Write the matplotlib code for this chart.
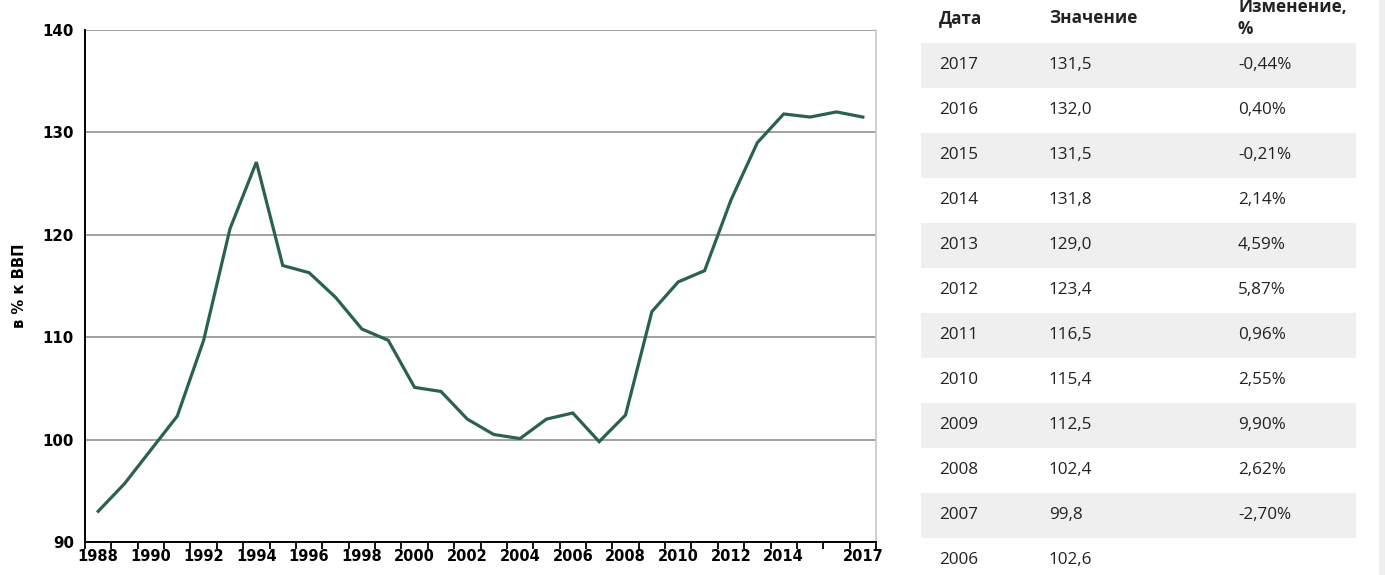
import matplotlib
matplotlib.use("Agg")
import matplotlib.pyplot as plt
from matplotlib.patches import Rectangle
from matplotlib.ticker import FixedLocator, FixedFormatter

years = list(range(1988, 2018))
values = [93.0, 95.7, 99.0, 102.3, 109.7, 120.6, 127.1, 117.0, 116.3, 113.9,
          110.8, 109.7, 105.1, 104.7, 102.0, 100.5, 100.1, 102.0, 102.6, 99.8,
          102.4, 112.5, 115.4, 116.5, 123.4, 129.0, 131.8, 131.5, 132.0, 131.5]
x_labels = [str(y) for y in range(1988, 2016, 2)] + ["2017"]
x_label_pos = list(range(1988, 2016, 2)) + [2017]
y_ticks = [90, 100, 110, 120, 130, 140]
y_title = "в % к ВВП"

table_header = ["Дата", "Значение", "Изменение,\n%"]
table_years = ["2017", "2016", "2015", "2014", "2013", "2012", "2011", "2010",
               "2009", "2008", "2007", "2006"]
table_values = ["131,5", "132,0", "131,5", "131,8", "129,0", "123,4", "116,5",
                "115,4", "112,5", "102,4", "99,8", "102,6"]
table_changes = ["-0,44%", "0,40%", "-0,21%", "2,14%", "4,59%", "5,87%", "0,96%",
                 "2,55%", "9,90%", "2,62%", "-2,70%", ""]

W, H = 1385, 575
fig = plt.figure(figsize=(W / 100, H / 100), dpi=100)
fig.patch.set_facecolor("white")

def fx(px):
    return px / W

def fy(py):
    return 1 - py / H

ax = fig.add_axes([fx(85), fy(542), fx(876) - fx(85), fy(30) - fy(542)])
ax.plot(years, values, color="#2b6150", lw=2.3, solid_joinstyle="miter")
ax.set_xlim(1987.5, 2017.5)
ax.set_ylim(90, 140)
ax.set_yticks(y_ticks)
ax.set_yticklabels([str(v) for v in y_ticks], fontsize=10.8, fontweight="bold",
                   family="DejaVu Sans")
ax.tick_params(axis="y", length=0, pad=8)
ax.yaxis.grid(True, color="#999999", lw=1.3)
ax.set_axisbelow(True)

ax.xaxis.set_major_locator(FixedLocator([y - 0.5 for y in range(1988, 2019)]))
ax.xaxis.set_major_formatter(FixedFormatter([""] * 31))
ax.xaxis.set_minor_locator(FixedLocator(x_label_pos))
ax.xaxis.set_minor_formatter(FixedFormatter(x_labels))
ax.tick_params(axis="x", which="major", length=5, width=1.3, color="black", direction="out")
ax.tick_params(axis="x", which="minor", length=0, pad=5, labelsize=10.5)
for lab in ax.get_xticklabels(minor=True):
    lab.set_fontweight("bold")

for s in ["left", "bottom"]:
    ax.spines[s].set_color("black")
    ax.spines[s].set_linewidth(1.4)
ax.spines["top"].set_visible(False)
ax.spines["right"].set_color("#cccccc")
ax.spines["right"].set_linewidth(1.3)

ax.set_ylabel(y_title, fontsize=10.6, fontweight="bold")
ax.yaxis.set_label_coords((fx(27) - fx(85)) / (fx(876) - fx(85)), 0.5)

# Table
col_x = [939, 1049, 1238]
text_color = "#222222"
tf = "Open Sans"
fs = 12.3
fig.text(fx(col_x[0]), fy(18), table_header[0], fontsize=fs, fontweight="bold",
         color=text_color, family=tf, va="center", ha="left")
fig.text(fx(col_x[1]), fy(18), table_header[1], fontsize=fs, fontweight="bold",
         color=text_color, family=tf, va="center", ha="left")
fig.text(fx(col_x[2]), fy(18), table_header[2], fontsize=fs, fontweight="bold",
         color=text_color, family=tf, va="center", ha="left", linespacing=1.3)

row_h = 45
for i, (yr, v, c) in enumerate(zip(table_years, table_values, table_changes)):
    cy = 65 + row_h * i
    if i % 2 == 0:
        fig.add_artist(Rectangle((fx(921), fy(cy + row_h / 2)), fx(1356) - fx(921),
                                 row_h / H, transform=fig.transFigure,
                                 facecolor="#efefef", edgecolor="none", zorder=0))
    for x, t in zip(col_x, [yr, v, c]):
        fig.text(fx(x), fy(cy), t, fontsize=fs, color=text_color, family=tf,
                 va="center", ha="left")

fig.add_artist(Rectangle((fx(1379), 0), fx(1385) - fx(1379), 1,
                         transform=fig.transFigure, facecolor="#eeeeee",
                         edgecolor="none", zorder=0))

fig.savefig("out.png", dpi=100)
